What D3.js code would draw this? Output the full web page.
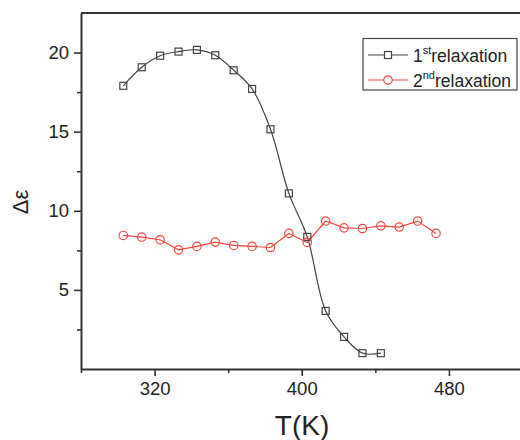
<!DOCTYPE html>
<html>
<head>
<meta charset="utf-8">
<script src="https://cdn.jsdelivr.net/npm/d3@7"></script>
<style>
  body { margin: 0; background: #fff; }
  svg { display: block; font-family: "Liberation Sans", Arial, sans-serif; }
</style>
</head>
<body>
<div id="chart"></div>
<script>
// temperatures (K)
const temps1 = [303, 313, 323, 333, 343, 353, 363, 373, 383, 393, 403, 413, 423, 433, 443];
const temps2 = [303, 313, 323, 333, 343, 353, 363, 373, 383, 393, 403, 413, 423, 433, 443, 453, 463, 473];
// dielectric strength
const relax1 = [17.9, 19.07, 19.8, 20.06, 20.17, 19.83, 18.88, 17.7, 15.15, 11.1, 8.35, 3.67, 2.03, 1.0, 1.0];
const relax2 = [8.44, 8.34, 8.17, 7.53, 7.75, 8.02, 7.81, 7.75, 7.68, 8.57, 8.0, 9.35, 8.92, 8.88, 9.05, 8.97, 9.35, 8.57];
const xMajor = [320, 400, 480];
const xMinor = [280, 360, 440, 520];
const yMajor = [5, 10, 15, 20];
const yMinor = [2.5, 7.5, 12.5, 17.5];

const width = 520, height = 440;
const svg = d3.select("#chart").append("svg")
  .attr("width", width).attr("height", height);

const x = d3.scaleLinear().domain([280, 520]).range([81, 522.5]);
const y = d3.scaleLinear().domain([0, 22.5]).range([369, 13]);

const axisCol = "#333";

// minor ticks
svg.append("g").attr("transform", "translate(0,369)")
  .call(d3.axisBottom(x).tickValues(xMinor).tickSize(4).tickFormat(""))
  .call(g => g.select(".domain").remove());
svg.append("g").attr("transform", "translate(81,0)")
  .call(d3.axisLeft(y).tickValues(yMinor).tickSize(4).tickFormat(""))
  .call(g => g.select(".domain").remove());

// major ticks
const xAx = svg.append("g").attr("transform", "translate(0,369)")
  .call(d3.axisBottom(x).tickValues(xMajor).tickSize(7).tickSizeOuter(0).tickPadding(6));
const yAx = svg.append("g").attr("transform", "translate(81,0)")
  .call(d3.axisLeft(y).tickValues(yMajor).tickSize(7).tickSizeOuter(0).tickPadding(5));

svg.selectAll(".tick line").attr("stroke", axisCol).attr("stroke-width", 1.6);
svg.selectAll(".domain").attr("stroke", axisCol).attr("stroke-width", 2);
svg.selectAll(".tick text").attr("fill", "#222").style("font-size", "18.5px")
  .style("font-family", "Liberation Sans, Arial, sans-serif");

// top frame
svg.append("line")
  .attr("x1", x(280)).attr("x2", x(520))
  .attr("y1", y(22.5)).attr("y2", y(22.5))
  .attr("stroke", axisCol).attr("stroke-width", 2);
svg.append("line")
  .attr("x1", x(520)).attr("x2", x(520))
  .attr("y1", y(22.5)).attr("y2", y(0))
  .attr("stroke", axisCol).attr("stroke-width", 2);

// axis titles
svg.append("text")
  .attr("x", 302).attr("y", 435)
  .attr("text-anchor", "middle")
  .style("font-size", "28px").attr("fill", "#222")
  .text("T(K)");
svg.append("text")
  .attr("transform", "translate(28,202) rotate(-90)")
  .attr("text-anchor", "middle")
  .style("font-size", "22px").attr("fill", "#222")
  .text("Δε");

const black = "#444", red = "#f5473f";

const d1 = temps1.map((t, i) => [t, relax1[i]]);
const d2 = temps2.map((t, i) => [t, relax2[i]]);

// lines
svg.append("path").datum(d1)
  .attr("fill", "none").attr("stroke", black).attr("stroke-width", 1.2)
  .attr("d", d3.line().x(d => x(d[0])).y(d => y(d[1])).curve(d3.curveCatmullRom.alpha(0.5)));
svg.append("path").datum(d2)
  .attr("fill", "none").attr("stroke", red).attr("stroke-width", 1.2)
  .attr("d", d3.line().x(d => x(d[0])).y(d => y(d[1])));

// markers
svg.selectAll(".sq").data(d1).enter().append("rect")
  .attr("class", "sq")
  .attr("x", d => x(d[0]) - 3.5).attr("y", d => y(d[1]) - 3.5)
  .attr("width", 7).attr("height", 7)
  .attr("fill", "none").attr("stroke", black).attr("stroke-width", 1.2);
svg.selectAll(".ci").data(d2).enter().append("circle")
  .attr("class", "ci")
  .attr("cx", d => x(d[0])).attr("cy", d => y(d[1])).attr("r", 4.2)
  .attr("fill", "none").attr("stroke", red).attr("stroke-width", 1.2);

// legend
const lg = svg.append("g");
lg.append("rect")
  .attr("x", 363).attr("y", 38.5).attr("width", 154).attr("height", 51.5)
  .attr("fill", "#fff").attr("stroke", "#444").attr("stroke-width", 1.2);
const items = [
  { num: "1", sup: "st", col: black, shape: "sq", yy: 55 },
  { num: "2", sup: "nd", col: red, shape: "ci", yy: 80 }
];
items.forEach(it => {
  lg.append("line").attr("x1", 368).attr("x2", 408).attr("y1", it.yy).attr("y2", it.yy)
    .attr("stroke", it.col).attr("stroke-width", 1.2);
  if (it.shape === "sq") {
    lg.append("rect").attr("x", 384.5).attr("y", it.yy - 3.5).attr("width", 7).attr("height", 7)
      .attr("fill", "#fff").attr("stroke", it.col).attr("stroke-width", 1.2);
  } else {
    lg.append("circle").attr("cx", 388).attr("cy", it.yy).attr("r", 4.2)
      .attr("fill", "#fff").attr("stroke", it.col).attr("stroke-width", 1.2);
  }
  const t = lg.append("text").attr("x", 413).attr("y", it.yy + 6.5)
    .style("font-size", "17.5px").attr("fill", "#222");
  t.append("tspan").text(it.num);
  t.append("tspan").attr("dy", -8).style("font-size", "11px").text(it.sup);
  t.append("tspan").attr("dy", 8).text("relaxation");
});
</script>
</body>
</html>
